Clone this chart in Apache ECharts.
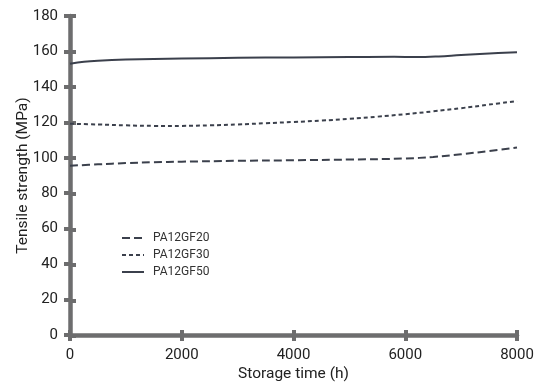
<!DOCTYPE html>
<html><head><meta charset="utf-8">
<script src="https://cdn.jsdelivr.net/npm/echarts@6/dist/echarts.min.js"></script>
<style>html,body{margin:0;padding:0;background:#fff}#c{width:544px;height:387px}</style>
</head><body><div id="c"></div>
<script>
var FONT = "Roboto, sans-serif";
var seriesNames = ['PA12GF20', 'PA12GF30', 'PA12GF50'];
var xTicks = [0, 2000, 4000, 6000, 8000];
var yTicks = [0, 20, 40, 60, 80, 100, 120, 140, 160, 180];

var tGF20 = [0, 500, 1000, 1500, 2000, 3000, 4000, 5000, 6000, 6500, 7000, 7500, 8000];
var vGF20 = [95.5, 96.3, 97.0, 97.5, 97.8, 98.3, 98.6, 99.0, 99.6, 100.5, 102.0, 103.8, 105.8];

var tGF30 = [0, 500, 1000, 1500, 2000, 2500, 3000, 3500, 4000, 4500, 5000, 5500, 6000, 6500, 7000, 7500, 8000];
var vGF30 = [119.2, 118.8, 118.3, 118.0, 118.0, 118.3, 118.8, 119.5, 120.2, 121.0, 122.0, 123.2, 124.6, 126.2, 128.0, 130.0, 132.0];

var tGF50 = [0, 250, 500, 1000, 2000, 3000, 4000, 5000, 5800, 6200, 6600, 7000, 7500, 8000];
var vGF50 = [153.0, 154.2, 154.8, 155.4, 156.0, 156.4, 156.6, 156.8, 157.0, 156.8, 157.2, 158.0, 158.8, 159.6];

function pairs(t, v) { return t.map(function (x, i) { return [x, v[i]]; }); }

var chart = echarts.init(document.getElementById('c'), null, { renderer: 'canvas' });
var axisCol = '#6d6d6e';
var lineCol = '#3b404c';
var G = { left: 70, right: 27, top: 16, bottom: 51 };

function xAx(gi, main) {
  return {
    gridIndex: gi, type: 'value', min: xTicks[0], max: xTicks[xTicks.length - 1], interval: 2000,
    position: 'bottom',
    name: main ? 'Storage time (h)' : '', nameLocation: 'middle', nameGap: 31, nameMoveOverlap: false,
    nameTextStyle: { fontFamily: FONT, fontSize: 15.5, color: '#222' },
    axisLine: { show: main, onZero: false, lineStyle: { color: axisCol, width: 4.5 } },
    axisTick: { show: true, inside: !main, length: 6, lineStyle: { color: axisCol, width: 4 } },
    axisLabel: { show: main, margin: 13, fontFamily: FONT, fontSize: 15, color: '#222',
      formatter: function (v) { return String(v); } },
    splitLine: { show: false }
  };
}
function yAx(gi, main) {
  return {
    gridIndex: gi, type: 'value', min: yTicks[0], max: yTicks[yTicks.length - 1], interval: 20,
    position: 'left',
    name: main ? 'Tensile strength (MPa)' : '', nameLocation: 'middle', nameGap: 39, nameMoveOverlap: false,
    nameTextStyle: { fontFamily: FONT, fontSize: 15.5, color: '#222' },
    axisLine: { show: main, onZero: false, lineStyle: { color: axisCol, width: 4.5 } },
    axisTick: { show: true, inside: !main, length: 6, lineStyle: { color: axisCol, width: 4 } },
    axisLabel: { show: main, margin: 12, fontFamily: FONT, fontSize: 15, color: '#222',
      formatter: function (v) { return String(v); } },
    splitLine: { show: false }
  };
}

var dashTypes = [[8, 4], [4, 3], 'solid'];
var datas = [pairs(tGF20, vGF20), pairs(tGF30, vGF30), pairs(tGF50, vGF50)];

chart.setOption({
  animation: false,
  backgroundColor: '#fff',
  grid: [G, G],
  xAxis: [xAx(0, true), xAx(1, false)],
  yAxis: [yAx(0, true), yAx(1, false)],
  legend: {
    orient: 'vertical', left: 121, top: 232, itemGap: 5, padding: 0,
    itemWidth: 22, itemHeight: 12,
    itemStyle: { opacity: 0 },
    textStyle: { fontFamily: FONT, fontSize: 12, color: '#333', padding: [0, 0, 0, 4] },
    data: seriesNames
  },
  series: seriesNames.map(function (n, i) {
    return {
      name: n, type: 'line', symbol: 'none', smooth: 0.4,
      xAxisIndex: 0, yAxisIndex: 0,
      lineStyle: { color: lineCol, width: 2, type: dashTypes[i] },
      itemStyle: { color: lineCol },
      data: datas[i]
    };
  })
});
</script></body></html>
